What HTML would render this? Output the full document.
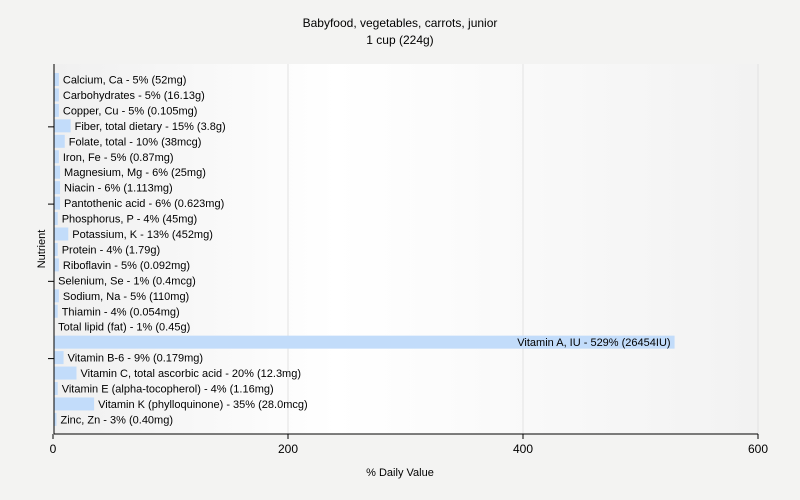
<!DOCTYPE html>
<html><head><meta charset="utf-8"><style>
body{margin:0;background:#f3f3f2;}
svg{display:block;font-family:"Liberation Sans",Arial,sans-serif;}
</style></head><body>
<svg id="chart" width="800" height="500">
<defs><linearGradient id="bg" x1="0" x2="1" y1="0" y2="0">
<stop offset="0" stop-color="#f0f0f0"/><stop offset="0.4" stop-color="#ffffff"/><stop offset="1" stop-color="#f2f2f2"/></linearGradient></defs>
<text x="400" y="27" text-anchor="middle" font-size="12" fill="#000">Babyfood, vegetables, carrots, junior</text>
<text x="400" y="44" text-anchor="middle" font-size="12" fill="#000">1 cup (224g)</text>
<rect x="54" y="64" width="704" height="370" fill="url(#bg)"/>
<g id="grid"></g><g id="bars"></g><g id="axes"></g>
<text x="400" y="476" text-anchor="middle" font-size="11">% Daily Value</text>
<text transform="translate(45,249) rotate(-90)" text-anchor="middle" font-size="11">Nutrient</text>
</svg>
<script>
const categories=["Calcium, Ca","Carbohydrates","Copper, Cu","Fiber, total dietary","Folate, total","Iron, Fe","Magnesium, Mg","Niacin","Pantothenic acid","Phosphorus, P","Potassium, K","Protein","Riboflavin","Selenium, Se","Sodium, Na","Thiamin","Total lipid (fat)","Vitamin A, IU","Vitamin B-6","Vitamin C, total ascorbic acid","Vitamin E (alpha-tocopherol)","Vitamin K (phylloquinone)","Zinc, Zn"];
const values=[5,5,5,15,10,5,6,6,6,4,13,4,5,1,5,4,1,529,9,20,4,35,3];
const amounts=["52mg","16.13g","0.105mg","3.8g","38mcg","0.87mg","25mg","1.113mg","0.623mg","45mg","452mg","1.79g","0.092mg","0.4mcg","110mg","0.054mg","0.45g","26454IU","0.179mg","12.3mg","1.16mg","28.0mcg","0.40mg"];
const xTicks=[0,200,400,600];
const NS="http://www.w3.org/2000/svg";
const x=v=>53+v*1.175;
const y=i=>79.5+i*15.45;
function mk(tag,attrs,parent,txt){const e=document.createElementNS(NS,tag);for(const k in attrs)e.setAttribute(k,attrs[k]);if(txt!==undefined)e.textContent=txt;parent.appendChild(e);return e;}
const grid=document.getElementById('grid'),bars=document.getElementById('bars'),axes=document.getElementById('axes');
xTicks.forEach(t=>{if(t>0){const g=mk('line',{x1:x(t),x2:x(t),y1:64,y2:434,stroke:'#e2e2e2'},grid);

}
const tk=mk('line',{x1:x(t),x2:x(t),y1:434,y2:439,stroke:'#000'},axes);


const lb=mk('text',{x:x(t),y:453,'text-anchor':'middle','font-size':12},axes,String(t));

});
categories.forEach((c,i)=>{const cy=y(i);
const r=mk('rect',{x:x(0)+1,y:cy-6.5,width:Math.max(0,x(values[i])-x(0)-1),height:13,fill:'#c2dcfa'},bars);


const label=c+" - "+values[i]+"% ("+amounts[i]+")";
const inside=values[i]>300;
const t=mk('text',{x:inside?x(values[i])-4:x(values[i])+4,y:cy+4,'font-size':11,'text-anchor':inside?'end':'start',fill:'#000'},bars,label);


if(i%5===3){const tk=mk('line',{x1:48,x2:54,y1:cy+1,y2:cy+1,stroke:'#000'},axes);

}});
const ya=mk('line',{x1:54,x2:54,y1:64,y2:434,stroke:'#000'},axes);


const xa=mk('line',{x1:54,x2:758,y1:434,y2:434,stroke:'#000'},axes);


</script>
</body></html>
